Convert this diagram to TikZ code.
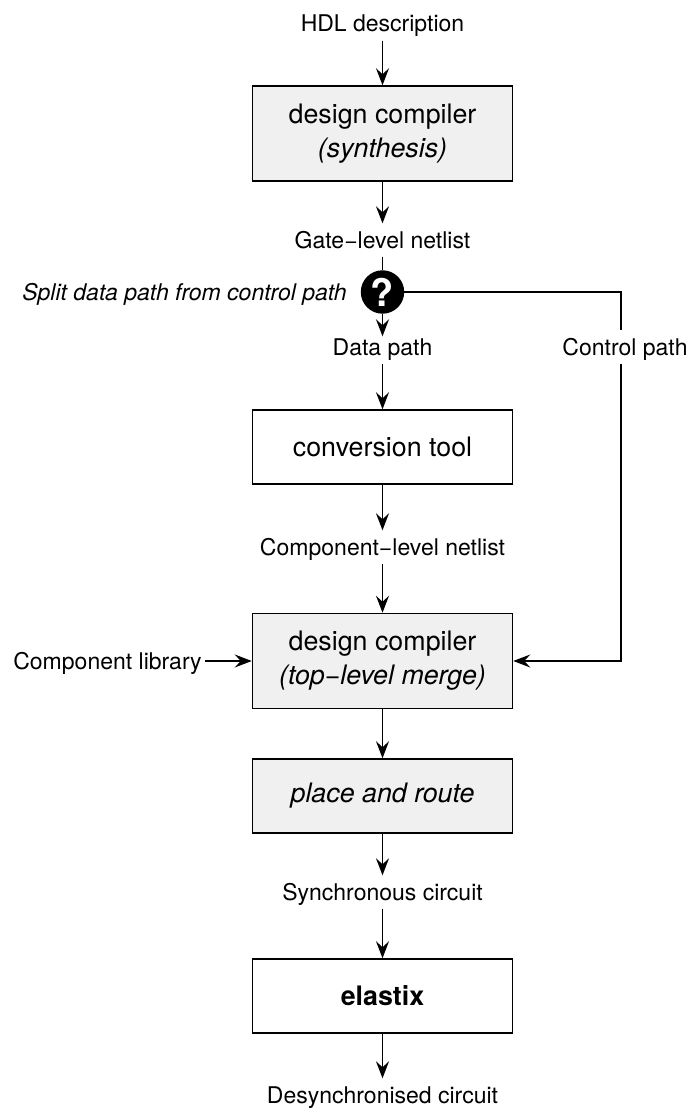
\documentclass[tikz,border=0pt]{standalone}
\usepackage{fontspec}
\setmainfont{TeX Gyre Heros}
\usetikzlibrary{arrows.meta}
\tikzset{
  toolbox/.style={draw, rectangle, line width=1.5pt, minimum width=260pt, minimum height=#1, align=center, font=\fontsize{26.8}{34}\selectfont},
  greybox/.style={toolbox=#1, fill=boxgrey},
  flowlabel/.style={rectangle, inner sep=3pt, minimum height=32pt, text height=18pt, text depth=2pt, font=\fontsize{23}{26}\selectfont},
}
\definecolor{boxgrey}{HTML}{F0F0F0}
\begin{document}
\begin{tikzpicture}[auto, x=1pt, y=1pt, >={Stealth[length=17pt, width=13pt, inset=6pt]}, line width=1.4pt]
            \useasboundingbox (0,0) rectangle (692,-1110);
            % Nodes
            \node [flowlabel] (hdl) at (382.5,-24) {HDL description};
            \node [greybox=95pt, below of=hdl, node distance=109.5pt] (synth) {design compiler\\\textit{(synthesis)}};
            \node [flowlabel, below of=synth, node distance=106.5pt] (gate) {Gate−level netlist};
            \node [draw, circle, fill=black, minimum size=42pt, inner sep=0pt, text=white, font=\fontsize{38}{38}\selectfont\bfseries, below of=gate, node distance=52pt] (split) {?};
            \node [flowlabel, left of=split, node distance=198pt] (splitlabel) {\textit{Split data path from control path}};
            \node [flowlabel, below of=split, node distance=55pt] (data) {Data path};
            \node [flowlabel, right of=data, node distance=242.5pt] (control) {Control path};
            \node [toolbox=74pt, below of=data, node distance=100pt] (conv) {conversion tool};
            \node [flowlabel, below of=conv, node distance=100pt] (comp) {Component−level netlist};
            \node [greybox=95pt, below of=comp, node distance=114pt] (merge) {design compiler\\\textit{(top−level merge)}};
            \node [flowlabel, left of=merge, node distance=275pt] (lib) {Component library};
            \node [greybox=74pt, below of=merge, node distance=135pt] (place) {\textit{place and route}};
            \node [flowlabel, below of=place, node distance=96pt] (sync) {Synchronous circuit};
            \node [toolbox=74pt, below of=sync, node distance=104pt] (elastix) {\textbf{elastix}};
            \node [flowlabel, below of=elastix, node distance=99pt] (desync) {Desynchronised circuit};

            % Arrows
            \draw [->] (hdl) -- (synth);
            \draw [->] (synth) -- (gate);
            \draw (gate) -- (split);
            \draw [->, shorten >=-6pt] (split) -- (data);
            \draw [->] (data) -- (conv);
            \draw [->] (conv) -- (comp);
            \draw [->] (comp) -- (merge);
            \draw [->] (lib) -- (merge);
            \draw (split) -| ([xshift=-4pt]control.north);
            \draw [->] ([xshift=-4pt]control.south) |- (merge);
            \draw [->] (merge) -- (place);
            \draw [->] (place) -- (sync);
            \draw [->] (sync) -- (elastix);
            \draw [->] (elastix) -- (desync);

        \end{tikzpicture}
\end{document}
